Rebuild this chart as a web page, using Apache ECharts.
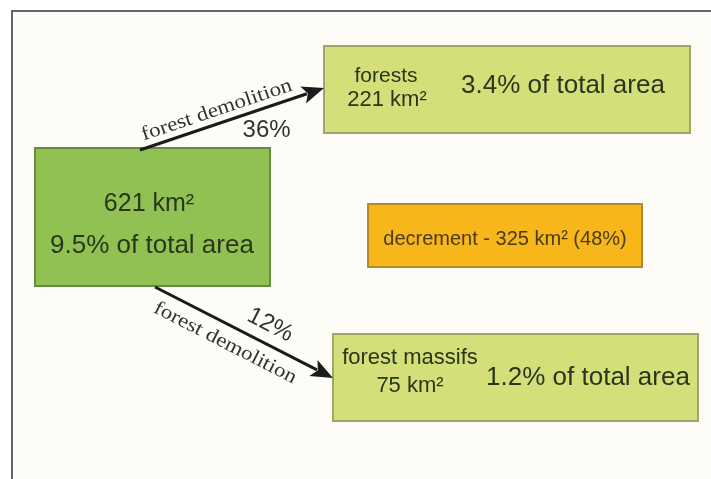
<!DOCTYPE html>
<html><head><meta charset="utf-8">
<script src="https://cdn.jsdelivr.net/npm/echarts@6/dist/echarts.min.js"></script>
<style>html,body{margin:0;padding:0;background:#fff}#c{width:711px;height:479px}</style>
</head><body><div id="c"></div>
<script>
// ---- data ----
const boxTitles = ['', 'forests', 'forest massifs', 'decrement'];
const areasKm2 = [621, 221, 75, 325];
const shareOfTotalPct = [9.5, 3.4, 1.2];
const demolitionPct = [36, 12];
const decrementPct = 48;
const flowLabel = 'forest demolition';

// ---- layout (units of the hidden axes) ----
const boxExtents = [[35,148,270,286],[324,46,690,133],[333,334,698,421],[368,204,642,267]];
const flowExtents = [[140,150,324,88],[155,287,333,378]];
const boxFill = ['#90c152','#d4df7a','#d4df7a','#f7b61a'];
const boxStroke = ['#6a8942','#a0a66a','#a0a66a','#b58a2c'];
const flowLabelLayout = [
  {nameFrac:0.44, nameOff:13, pctFrac:0.65, pctOff:-22, pctRotate:false},
  {nameFrac:0.44, nameOff:-18, pctFrac:0.60, pctOff:18.5, pctRotate:true}
];

function boxTexts(i){
  if(i===0) return [
    {t: areasKm2[0]+' km²', x:149, y:204, s:25},
    {t: shareOfTotalPct[0]+'% of total area', x:152, y:246, s:26}];
  if(i===1) return [
    {t: boxTitles[1], x:386, y:76, s:21},
    {t: areasKm2[1]+' km²', x:387, y:100, s:22},
    {t: shareOfTotalPct[1]+'% of total area', x:563, y:86, s:26}];
  if(i===2) return [
    {t: boxTitles[2], x:410, y:358, s:22},
    {t: areasKm2[2]+' km²', x:410, y:386, s:22},
    {t: shareOfTotalPct[2]+'% of total area', x:588, y:378, s:26}];
  return [{t: boxTitles[3]+' - '+areasKm2[3]+' km² ('+decrementPct+'%)', x:505, y:239, s:20, c:'#4b3a12'}];
}

const chart = echarts.init(document.getElementById('c'), null, {renderer:'canvas'});
chart.setOption({
  animation:false,
  backgroundColor:'#ffffff',
  graphic:[{type:'rect', z:-10, shape:{x:12,y:11,width:760,height:520},
            style:{fill:'#fdfcf7', stroke:'#666666', lineWidth:2}}],
  grid:{left:0,right:0,top:0,bottom:0},
  xAxis:{type:'value', min:0, max:711, show:false},
  yAxis:{type:'value', min:0, max:479, inverse:true, show:false},
  series:[
    {type:'custom', z:3, clip:false,
     data: boxExtents.map((e,i)=>[e[0],e[1],e[2],e[3],i]),
     renderItem:function(params, api){
       const i = api.value(4);
       const p0 = api.coord([api.value(0), api.value(1)]);
       const p1 = api.coord([api.value(2), api.value(3)]);
       const children = [{type:'rect', shape:{x:p0[0], y:p0[1], width:p1[0]-p0[0], height:p1[1]-p0[1]},
         style:{fill:boxFill[i], stroke:boxStroke[i], lineWidth:2}}];
       boxTexts(i).forEach(function(tx){
         const p = api.coord([tx.x, tx.y]);
         children.push({type:'text', style:{text:tx.t, x:p[0], y:p[1], align:'center', verticalAlign:'middle',
           fill: tx.c || '#2a3619', font: tx.s+'px "Liberation Sans", Arial, sans-serif'}});
       });
       return {type:'group', children:children};
     }},
    {type:'custom', z:4, clip:false,
     data: flowExtents.map((e,i)=>[e[0],e[1],e[2],e[3],i]),
     renderItem:function(params, api){
       const i = api.value(4);
       const a = api.coord([api.value(0), api.value(1)]);
       const b = api.coord([api.value(2), api.value(3)]);
       const dx=b[0]-a[0], dy=b[1]-a[1], L=Math.hypot(dx,dy);
       const ux=dx/L, uy=dy/L, nx=uy, ny=-ux;
       const head=22, hw=9;
       const bx=b[0]-ux*head, by=b[1]-uy*head;
       const ang=-Math.atan2(dy,dx);
       const lay=flowLabelLayout[i];
       const at=function(f,o){return [a[0]+ux*L*f+nx*o, a[1]+uy*L*f+ny*o];};
       const q1=at(lay.nameFrac, lay.nameOff), q2=at(lay.pctFrac, lay.pctOff);
       return {type:'group', children:[
         {type:'line', shape:{x1:a[0],y1:a[1],x2:bx+ux*4,y2:by+uy*4}, style:{stroke:'#1b1b1b', lineWidth:3}},
         {type:'polygon', shape:{points:[[b[0],b[1]],[bx+nx*hw,by+ny*hw],[bx+ux*5,by+uy*5],[bx-nx*hw,by-ny*hw]]}, style:{fill:'#1b1b1b'}},
         {type:'text', x:q1[0], y:q1[1], rotation:ang, scaleX:1.15,
          style:{text:flowLabel, x:0, y:0, align:'center', verticalAlign:'middle', fill:'#333333',
                 font:'20px "Liberation Serif", "Times New Roman", serif'}},
         {type:'text', x:q2[0], y:q2[1], rotation: lay.pctRotate ? ang : 0,
          style:{text:demolitionPct[i]+'%', x:0, y:0, align:'center', verticalAlign:'middle', fill:'#333333',
                 font:'24px "Liberation Sans", Arial, sans-serif'}}
       ]};
     }}
  ]
});
</script></body></html>
